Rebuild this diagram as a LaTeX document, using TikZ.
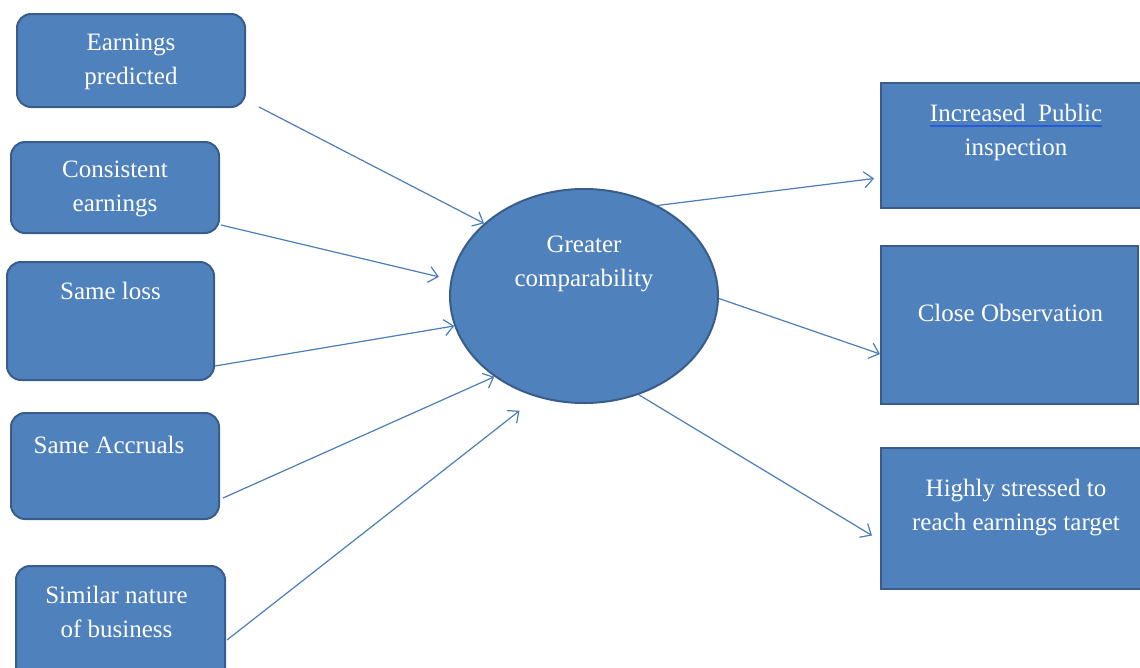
\documentclass[tikz,border=0pt]{standalone}
\usepackage{fontspec}
\setmainfont{Liberation Serif}
\usetikzlibrary{positioning,shapes.geometric,arrows.meta,backgrounds}
\definecolor{boxfill}{HTML}{4F81BD}
\definecolor{boxline}{HTML}{385D8A}
\definecolor{arrowblue}{HTML}{4A7EBB}
\definecolor{ulblue}{HTML}{2A5BD7}
\newcommand{\blueul}[1]{\setbox0\hbox{#1}%
  \rlap{\color{ulblue}\rule[-5pt]{\wd0}{2pt}}\box0}

\begin{document}
\begin{tikzpicture}[x=1pt, y=-1pt,
  every node/.style = {align=center},
  cause/.style = {draw=boxline, line width=2pt, fill=boxfill,
    rounded corners=14pt},
  effect/.style = {draw=boxline, line width=2pt, fill=boxfill},
  txt/.style = {text=white, inner sep=0pt,
    font=\fontsize{25}{34}\selectfont,
    execute at begin node=\rule{0pt}{18pt}},
  link/.style = {draw=arrowblue, line width=1.2pt,
    -{Straight Barb[length=9pt,width=16pt]}}]
  \useasboundingbox (0,0) rectangle (1140,667);

  % causes
  \node[cause, minimum width=228pt, minimum height=93pt] (ep) at (131,60.5) {};
  \node[cause, minimum width=208pt, minimum height=91pt] (ce) at (115,187.5) {};
  \node[cause, minimum width=207pt, minimum height=118pt] (sl) at (110.5,321) {};
  \node[cause, minimum width=208pt, minimum height=106pt] (sa) at (115,466) {};
  \node[cause, minimum width=209pt, minimum height=120pt] (sn) at (120.5,626) {};
  \node[txt, below=21pt of ep.north] (ep-t) {Earnings\\predicted};
  \node[txt, below=20pt of ce.north] (ce-t) {Consistent\\earnings};
  \node[txt, below=20pt of sl.north] (sl-t) {Same loss};
  \node[txt, below=23pt of sa.north, xshift=-6pt] (sa-t) {Same Accruals};
  \node[txt, below=21pt of sn.north, xshift=-4pt] (sn-t) {Similar nature\\of business};

  % centre
  \node[ellipse, draw=boxline, line width=2pt, fill=boxfill,
    minimum width=268pt, minimum height=214pt, inner sep=0pt] (gc) at (584,296) {};
  \node[txt, anchor=north] (gc-t) at ([shift={(0,-60)}]gc.center)
    {Greater\\comparability};

  % effects
  \node[effect, minimum width=262pt, minimum height=125pt] (ip) at (1012,145.5) {};
  \node[effect, minimum width=257pt, minimum height=158pt] (co) at (1009.5,325) {};
  \node[effect, minimum width=264pt, minimum height=141pt] (hs) at (1013,518.5) {};
  \node[txt, below=22pt of ip.north, xshift=4pt] (ip-t)
    {\blueul{Increased\ \ Public}\\inspection};
  \node[txt, below=58pt of co.north, xshift=1pt] (co-t) {Close Observation};
  \node[txt, below=32pt of hs.north, xshift=3pt] (hs-t)
    {Highly stressed to\\reach earnings target};

  \begin{scope}[on background layer]
    \draw[link] ([shift={(13,-1)}]ep.south east) -- (gc.144);
    \draw[link, shorten >=12pt] ([shift={(1,-9)}]ce.south east) -- (gc.173);
    \draw[link] ([shift={(0,45)}]sl.east) -- (gc.193);
    \draw[link] ([shift={(3,32)}]sa.east) -- (gc.222);
    \draw[link, shorten >=22pt] ([shift={(1,14)}]sn.east) -- (gc.245);
    \draw[link] ([shift={(53,-88)}]gc.center) -- ([shift={(-6,33)}]ip.west);
    \draw[link] ([shift={(29,-34)}]gc.center) -- ([shift={(0,29)}]co.west);
    \draw[link] (gc.-61) -- ([shift={(-8,17)}]hs.west);
  \end{scope}
\end{tikzpicture}
\end{document}
